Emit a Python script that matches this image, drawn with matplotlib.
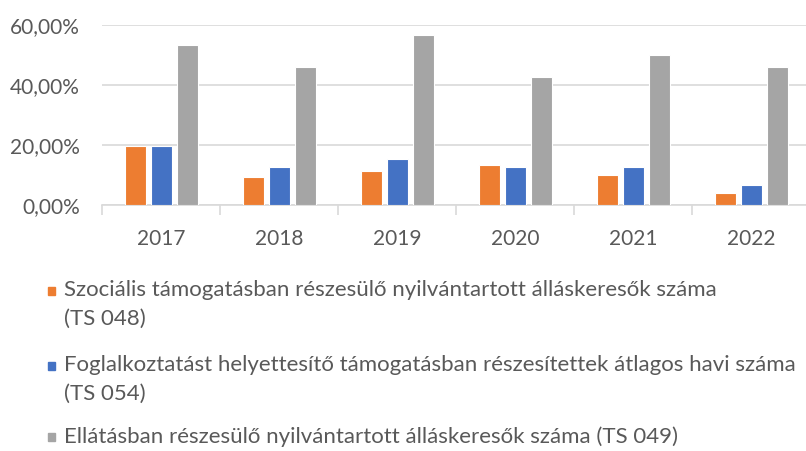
import matplotlib
matplotlib.use("Agg")
import matplotlib.pyplot as plt
from matplotlib.patches import Rectangle
from matplotlib.ticker import FuncFormatter, MultipleLocator, FixedLocator
import numpy as np

years = ["2017", "2018", "2019", "2020", "2021", "2022"]
ts048 = [19.8, 9.4, 11.4, 13.4, 10.1, 4.0]
ts054 = [19.8, 12.7, 15.4, 12.7, 12.7, 6.6]
ts049 = [53.3, 45.9, 56.6, 42.6, 49.9, 45.9]
labels = [
    "Szociális támogatásban részesülő nyilvántartott álláskeresők száma\n(TS 048)",
    "Foglalkoztatást helyettesítő támogatásban részesítettek átlagos havi száma\n(TS 054)",
    "Ellátásban részesülő nyilvántartott álláskeresők száma (TS 049)",
]
colors = ["#ED7D31", "#4472C4", "#A5A5A5"]

plt.rcParams["font.family"] = ["Lato", "DejaVu Sans"]
txt = "#595959"

fig = plt.figure(figsize=(8.06, 4.51), dpi=100)
ax = fig.add_axes([0.127, 0.545, 0.878, 0.40])

x = np.arange(len(years))
w = 0.178
step = 0.22
for i, vals in enumerate([ts048, ts054, ts049]):
    ax.bar(x + (i - 1) * step, vals, width=w, color=colors[i],
           edgecolor="white", linewidth=0.8, zorder=3)

ax.set_xlim(-0.5, len(years) - 0.5)
ax.set_ylim(0, 60)
ax.yaxis.set_major_locator(MultipleLocator(20))
ax.yaxis.set_major_formatter(FuncFormatter(lambda v, p: f"{v:.2f}%".replace(".", ",")))
ax.grid(axis="y", color="#D9D9D9", linewidth=1.2, zorder=0)
ax.set_xticks(x)
ax.set_xticklabels(years)
ax.xaxis.set_minor_locator(FixedLocator(np.arange(-0.5, len(years), 1.0)))
ax.tick_params(axis="x", which="major", length=0, pad=17, labelsize=15, colors=txt)
ax.tick_params(axis="x", which="minor", length=7, width=1.2, color="#D9D9D9")
ax.tick_params(axis="y", length=0, pad=16, labelsize=15, colors=txt)
for s in ["top", "right", "left"]:
    ax.spines[s].set_visible(False)
ax.spines["bottom"].set_color("#D9D9D9")
ax.spines["bottom"].set_linewidth(1.2)

# legend drawn below the chart, one entry per series
W, H = 806, 451
ys = [292, 367, 438]
for c, lab, yy in zip(colors, labels, ys):
    fig.patches.append(Rectangle((48 / W, 1 - (yy + 3) / H), 7 / W, 8 / H,
                                 transform=fig.transFigure, color=c))
    fig.text(64 / W, 1 - (yy - 12) / H, lab, fontsize=16, color=txt,
             va="top", ha="left", linespacing=1.55,
             transform=fig.transFigure)

fig.savefig("out.png", dpi=100)
